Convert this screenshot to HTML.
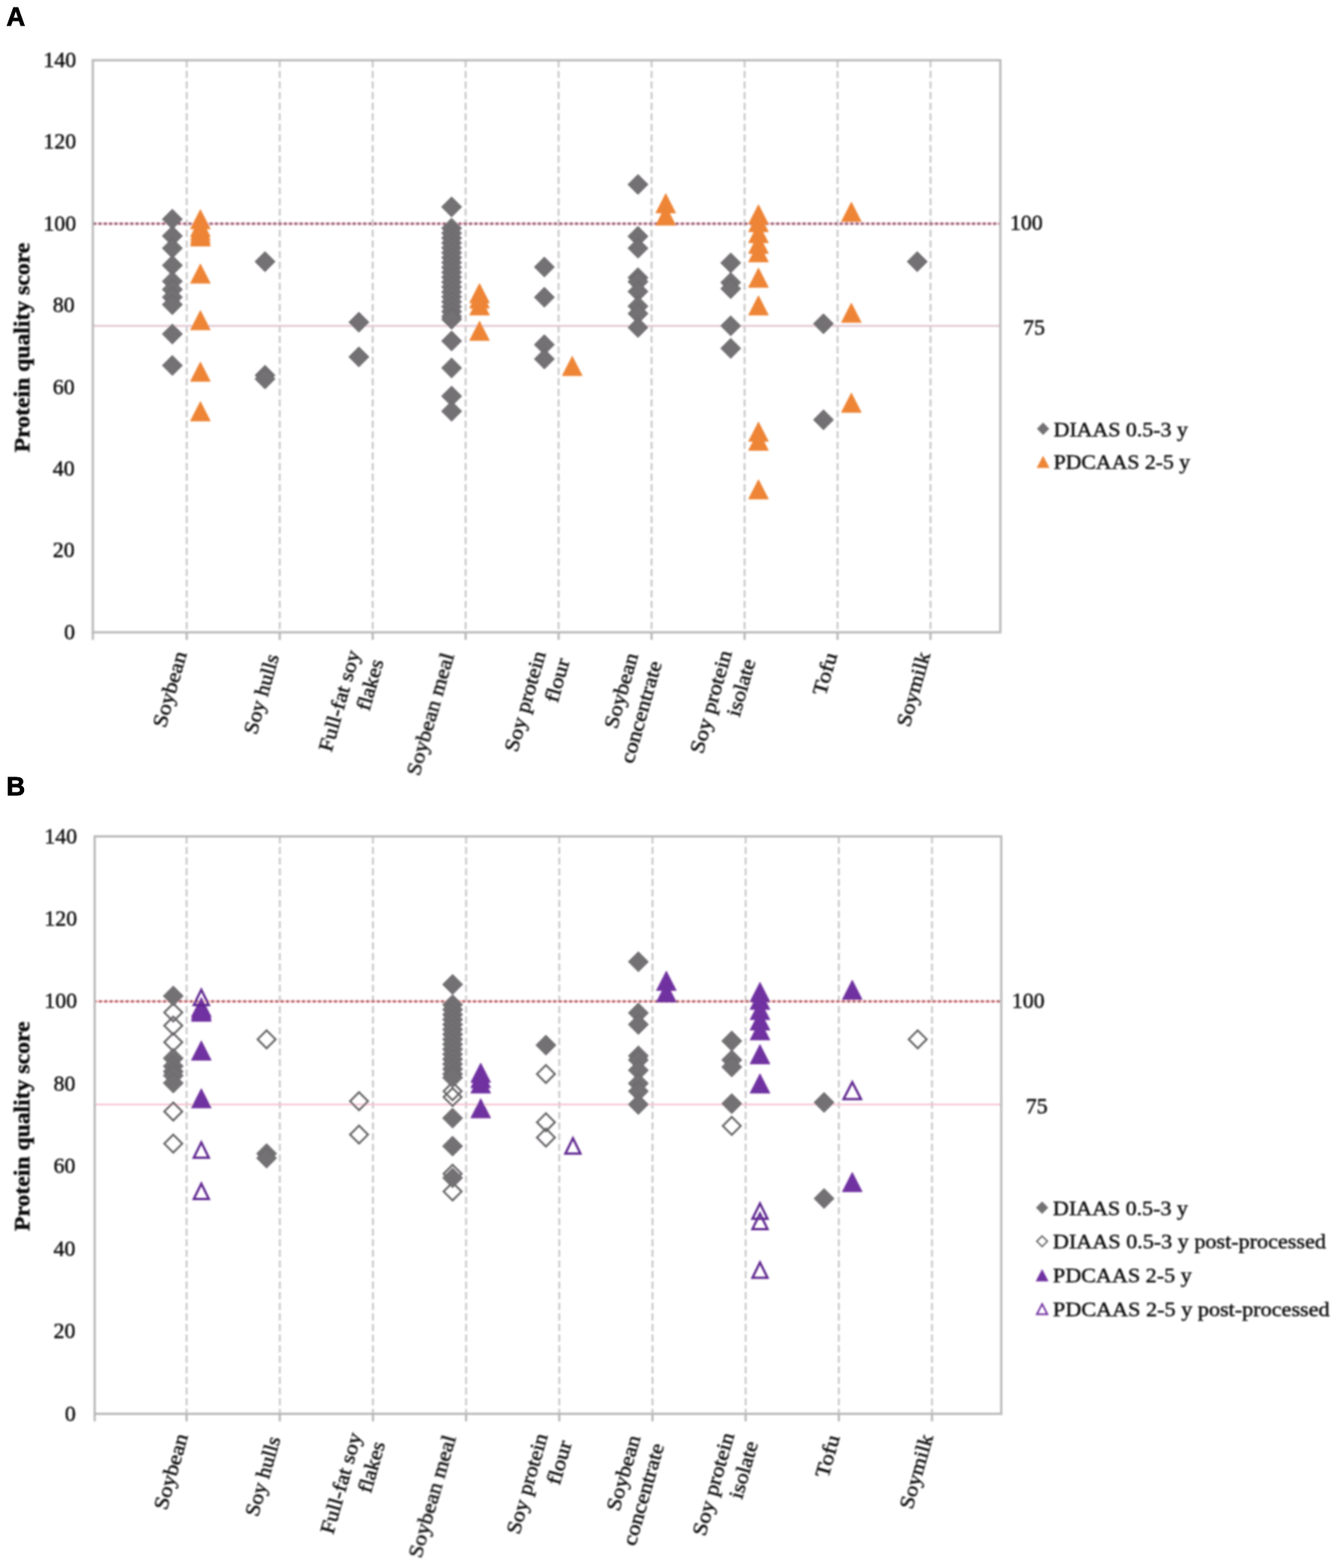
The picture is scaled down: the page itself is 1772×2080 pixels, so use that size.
<!DOCTYPE html>
<html><head><meta charset="utf-8"><title>Protein quality score</title>
<style>html,body{margin:0;padding:0;background:#fff;}svg{display:block;}g.c text{stroke:#141414;stroke-width:0.6px;}</style></head>
<body><svg width="1772" height="2080" viewBox="0 0 1772 2080">
<defs><filter id="bl" x="-2%" y="-2%" width="104%" height="104%"><feGaussianBlur stdDeviation="0.9"/></filter></defs>
<rect width="1772" height="2080" fill="#fff"/>
<g class="c" filter="url(#bl)">
<line x1="247.7" y1="79.9" x2="247.7" y2="838.8" stroke="#C9C9C9" stroke-width="2.6" stroke-dasharray="9.5 4.56"/>
<line x1="371.0" y1="79.9" x2="371.0" y2="838.8" stroke="#C9C9C9" stroke-width="2.6" stroke-dasharray="9.5 4.56"/>
<line x1="494.3" y1="79.9" x2="494.3" y2="838.8" stroke="#C9C9C9" stroke-width="2.6" stroke-dasharray="9.5 4.56"/>
<line x1="617.6" y1="79.9" x2="617.6" y2="838.8" stroke="#C9C9C9" stroke-width="2.6" stroke-dasharray="9.5 4.56"/>
<line x1="740.9" y1="79.9" x2="740.9" y2="838.8" stroke="#C9C9C9" stroke-width="2.6" stroke-dasharray="9.5 4.56"/>
<line x1="864.2" y1="79.9" x2="864.2" y2="838.8" stroke="#C9C9C9" stroke-width="2.6" stroke-dasharray="9.5 4.56"/>
<line x1="987.6" y1="79.9" x2="987.6" y2="838.8" stroke="#C9C9C9" stroke-width="2.6" stroke-dasharray="9.5 4.56"/>
<line x1="1110.9" y1="79.9" x2="1110.9" y2="838.8" stroke="#C9C9C9" stroke-width="2.6" stroke-dasharray="9.5 4.56"/>
<line x1="1234.2" y1="79.9" x2="1234.2" y2="838.8" stroke="#C9C9C9" stroke-width="2.6" stroke-dasharray="9.5 4.56"/>
<line x1="123.1" y1="432.2" x2="1326.8" y2="432.2" stroke="#E2C8D0" stroke-width="2.4"/>
<line x1="123.1" y1="296.7" x2="1326.8" y2="296.7" stroke="#F2BCCD" stroke-width="2.4"/>
<line x1="123.1" y1="296.7" x2="1325.8" y2="296.7" stroke="#8C5A6C" stroke-width="3.4" stroke-dasharray="3.5 3.522" stroke-dashoffset="-0.77"/>
<rect x="123.1" y="79.9" width="1203.7" height="758.9" fill="none" stroke="#B9B9B9" stroke-width="3"/>
<line x1="123.1" y1="838.8" x2="123.1" y2="848.8" stroke="#B9B9B9" stroke-width="3"/>
<line x1="247.7" y1="838.8" x2="247.7" y2="848.8" stroke="#B9B9B9" stroke-width="3"/>
<line x1="371.0" y1="838.8" x2="371.0" y2="848.8" stroke="#B9B9B9" stroke-width="3"/>
<line x1="494.3" y1="838.8" x2="494.3" y2="848.8" stroke="#B9B9B9" stroke-width="3"/>
<line x1="617.6" y1="838.8" x2="617.6" y2="848.8" stroke="#B9B9B9" stroke-width="3"/>
<line x1="740.9" y1="838.8" x2="740.9" y2="848.8" stroke="#B9B9B9" stroke-width="3"/>
<line x1="864.2" y1="838.8" x2="864.2" y2="848.8" stroke="#B9B9B9" stroke-width="3"/>
<line x1="987.6" y1="838.8" x2="987.6" y2="848.8" stroke="#B9B9B9" stroke-width="3"/>
<line x1="1110.9" y1="838.8" x2="1110.9" y2="848.8" stroke="#B9B9B9" stroke-width="3"/>
<line x1="1234.2" y1="838.8" x2="1234.2" y2="848.8" stroke="#B9B9B9" stroke-width="3"/>
<text x="99.5" y="847.8" font-family='"Liberation Serif", "Times New Roman", serif' font-size="29" text-anchor="end" fill="#111">0</text>
<text x="99.0" y="739.4" font-family='"Liberation Serif", "Times New Roman", serif' font-size="29" text-anchor="end" fill="#111">20</text>
<text x="99.0" y="631.0" font-family='"Liberation Serif", "Times New Roman", serif' font-size="29" text-anchor="end" fill="#111">40</text>
<text x="99.0" y="522.6" font-family='"Liberation Serif", "Times New Roman", serif' font-size="29" text-anchor="end" fill="#111">60</text>
<text x="99.0" y="414.1" font-family='"Liberation Serif", "Times New Roman", serif' font-size="29" text-anchor="end" fill="#111">80</text>
<text x="101.0" y="305.7" font-family='"Liberation Serif", "Times New Roman", serif' font-size="29" text-anchor="end" fill="#111">100</text>
<text x="101.0" y="197.3" font-family='"Liberation Serif", "Times New Roman", serif' font-size="29" text-anchor="end" fill="#111">120</text>
<text x="101.0" y="88.9" font-family='"Liberation Serif", "Times New Roman", serif' font-size="29" text-anchor="end" fill="#111">140</text>
<text x="1383.0" y="305.0" font-family='"Liberation Serif", "Times New Roman", serif' font-size="29" text-anchor="end" fill="#111">100</text>
<text x="1386.0" y="443.5" font-family='"Liberation Serif", "Times New Roman", serif' font-size="29" text-anchor="end" fill="#111">75</text>
<text transform="translate(39.0,461.0) rotate(-90)" font-family='"Liberation Serif", "Times New Roman", serif' font-size="29.5" font-weight="bold" text-anchor="middle" textLength="278" lengthAdjust="spacingAndGlyphs" fill="#111">Protein quality score</text>
<text transform="translate(247.89,867.15) rotate(-74.0)" font-family='"Liberation Serif", "Times New Roman", serif' font-size="27" text-anchor="end" textLength="103.4" lengthAdjust="spacingAndGlyphs" fill="#111">Soybean</text>
<text transform="translate(370.21,870.61) rotate(-74.0)" font-family='"Liberation Serif", "Times New Roman", serif' font-size="27" text-anchor="end" textLength="109.0" lengthAdjust="spacingAndGlyphs" fill="#111">Soy hulls</text>
<text transform="translate(477.65,865.75) rotate(-74.0)" font-family='"Liberation Serif", "Times New Roman", serif' font-size="27" text-anchor="end" textLength="138.2" lengthAdjust="spacingAndGlyphs" fill="#111">Full-fat soy</text>
<text transform="translate(508.84,877.40) rotate(-74.0)" font-family='"Liberation Serif", "Times New Roman", serif' font-size="27" text-anchor="end" textLength="69.4" lengthAdjust="spacingAndGlyphs" fill="#111">flakes</text>
<text transform="translate(602.59,869.13) rotate(-74.0)" font-family='"Liberation Serif", "Times New Roman", serif' font-size="27" text-anchor="end" textLength="167.7" lengthAdjust="spacingAndGlyphs" fill="#111">Soybean meal</text>
<text transform="translate(723.99,866.71) rotate(-74.0)" font-family='"Liberation Serif", "Times New Roman", serif' font-size="27" text-anchor="end" textLength="137.4" lengthAdjust="spacingAndGlyphs" fill="#111">Soy protein</text>
<text transform="translate(755.82,876.15) rotate(-74.0)" font-family='"Liberation Serif", "Times New Roman", serif' font-size="27" text-anchor="end" textLength="59.5" lengthAdjust="spacingAndGlyphs" fill="#111">flour</text>
<text transform="translate(846.61,869.11) rotate(-74.0)" font-family='"Liberation Serif", "Times New Roman", serif' font-size="27" text-anchor="end" textLength="102.8" lengthAdjust="spacingAndGlyphs" fill="#111">Soybean</text>
<text transform="translate(878.08,879.80) rotate(-74.0)" font-family='"Liberation Serif", "Times New Roman", serif' font-size="27" text-anchor="end" textLength="139.6" lengthAdjust="spacingAndGlyphs" fill="#111">concentrate</text>
<text transform="translate(970.91,865.65) rotate(-74.0)" font-family='"Liberation Serif", "Times New Roman", serif' font-size="27" text-anchor="end" textLength="140.9" lengthAdjust="spacingAndGlyphs" fill="#111">Soy protein</text>
<text transform="translate(1002.17,877.11) rotate(-74.0)" font-family='"Liberation Serif", "Times New Roman", serif' font-size="27" text-anchor="end" textLength="77.9" lengthAdjust="spacingAndGlyphs" fill="#111">isolate</text>
<text transform="translate(1110.62,868.69) rotate(-74.0)" font-family='"Liberation Serif", "Times New Roman", serif' font-size="27" text-anchor="end" textLength="57.6" lengthAdjust="spacingAndGlyphs" fill="#111">Tofu</text>
<text transform="translate(1234.15,867.92) rotate(-74.0)" font-family='"Liberation Serif", "Times New Roman", serif' font-size="27" text-anchor="end" textLength="101.5" lengthAdjust="spacingAndGlyphs" fill="#111">Soymilk</text>
<polygon points="228.6,277.5 241.9,290.8 228.6,304.1 215.3,290.8" fill="#737173" stroke="#666466" stroke-width="1"/>
<polygon points="228.6,299.7 241.9,313.0 228.6,326.3 215.3,313.0" fill="#737173" stroke="#666466" stroke-width="1"/>
<polygon points="228.6,316.0 241.9,329.3 228.6,342.6 215.3,329.3" fill="#737173" stroke="#666466" stroke-width="1"/>
<polygon points="228.6,338.7 241.9,352.0 228.6,365.3 215.3,352.0" fill="#737173" stroke="#666466" stroke-width="1"/>
<polygon points="228.6,359.9 241.9,373.2 228.6,386.5 215.3,373.2" fill="#737173" stroke="#666466" stroke-width="1"/>
<polygon points="228.6,370.7 241.9,384.0 228.6,397.3 215.3,384.0" fill="#737173" stroke="#666466" stroke-width="1"/>
<polygon points="228.6,381.0 241.9,394.3 228.6,407.6 215.3,394.3" fill="#737173" stroke="#666466" stroke-width="1"/>
<polygon points="228.6,390.8 241.9,404.1 228.6,417.4 215.3,404.1" fill="#737173" stroke="#666466" stroke-width="1"/>
<polygon points="228.6,429.8 241.9,443.1 228.6,456.4 215.3,443.1" fill="#737173" stroke="#666466" stroke-width="1"/>
<polygon points="228.6,471.5 241.9,484.8 228.6,498.1 215.3,484.8" fill="#737173" stroke="#666466" stroke-width="1"/>
<polygon points="351.5,333.8 364.8,347.1 351.5,360.4 338.2,347.1" fill="#737173" stroke="#666466" stroke-width="1"/>
<polygon points="351.5,484.5 364.8,497.8 351.5,511.1 338.2,497.8" fill="#737173" stroke="#666466" stroke-width="1"/>
<polygon points="351.5,489.4 364.8,502.7 351.5,516.0 338.2,502.7" fill="#737173" stroke="#666466" stroke-width="1"/>
<polygon points="476.0,414.1 489.3,427.4 476.0,440.7 462.7,427.4" fill="#737173" stroke="#666466" stroke-width="1"/>
<polygon points="476.0,460.1 489.3,473.4 476.0,486.7 462.7,473.4" fill="#737173" stroke="#666466" stroke-width="1"/>
<polygon points="599.0,261.2 612.3,274.5 599.0,287.8 585.7,274.5" fill="#737173" stroke="#666466" stroke-width="1"/>
<polygon points="599.0,289.4 612.3,302.7 599.0,316.0 585.7,302.7" fill="#737173" stroke="#666466" stroke-width="1"/>
<polygon points="599.0,295.9 612.3,309.2 599.0,322.5 585.7,309.2" fill="#737173" stroke="#666466" stroke-width="1"/>
<polygon points="599.0,302.4 612.3,315.7 599.0,329.0 585.7,315.7" fill="#737173" stroke="#666466" stroke-width="1"/>
<polygon points="599.0,308.9 612.3,322.2 599.0,335.5 585.7,322.2" fill="#737173" stroke="#666466" stroke-width="1"/>
<polygon points="599.0,315.4 612.3,328.7 599.0,342.0 585.7,328.7" fill="#737173" stroke="#666466" stroke-width="1"/>
<polygon points="599.0,321.9 612.3,335.2 599.0,348.5 585.7,335.2" fill="#737173" stroke="#666466" stroke-width="1"/>
<polygon points="599.0,328.4 612.3,341.7 599.0,355.0 585.7,341.7" fill="#737173" stroke="#666466" stroke-width="1"/>
<polygon points="599.0,334.9 612.3,348.2 599.0,361.5 585.7,348.2" fill="#737173" stroke="#666466" stroke-width="1"/>
<polygon points="599.0,341.4 612.3,354.7 599.0,368.0 585.7,354.7" fill="#737173" stroke="#666466" stroke-width="1"/>
<polygon points="599.0,347.9 612.3,361.2 599.0,374.5 585.7,361.2" fill="#737173" stroke="#666466" stroke-width="1"/>
<polygon points="599.0,354.4 612.3,367.7 599.0,381.0 585.7,367.7" fill="#737173" stroke="#666466" stroke-width="1"/>
<polygon points="599.0,360.9 612.3,374.2 599.0,387.5 585.7,374.2" fill="#737173" stroke="#666466" stroke-width="1"/>
<polygon points="599.0,367.4 612.3,380.7 599.0,394.0 585.7,380.7" fill="#737173" stroke="#666466" stroke-width="1"/>
<polygon points="599.0,374.0 612.3,387.3 599.0,400.6 585.7,387.3" fill="#737173" stroke="#666466" stroke-width="1"/>
<polygon points="599.0,380.5 612.3,393.8 599.0,407.1 585.7,393.8" fill="#737173" stroke="#666466" stroke-width="1"/>
<polygon points="599.0,387.0 612.3,400.3 599.0,413.6 585.7,400.3" fill="#737173" stroke="#666466" stroke-width="1"/>
<polygon points="599.0,393.5 612.3,406.8 599.0,420.1 585.7,406.8" fill="#737173" stroke="#666466" stroke-width="1"/>
<polygon points="599.0,400.0 612.3,413.3 599.0,426.6 585.7,413.3" fill="#737173" stroke="#666466" stroke-width="1"/>
<polygon points="599.0,406.5 612.3,419.8 599.0,433.1 585.7,419.8" fill="#737173" stroke="#666466" stroke-width="1"/>
<polygon points="599.0,410.3 612.3,423.6 599.0,436.9 585.7,423.6" fill="#737173" stroke="#666466" stroke-width="1"/>
<polygon points="599.0,439.0 612.3,452.3 599.0,465.6 585.7,452.3" fill="#737173" stroke="#666466" stroke-width="1"/>
<polygon points="599.0,474.8 612.3,488.1 599.0,501.4 585.7,488.1" fill="#737173" stroke="#666466" stroke-width="1"/>
<polygon points="599.0,512.2 612.3,525.5 599.0,538.8 585.7,525.5" fill="#737173" stroke="#666466" stroke-width="1"/>
<polygon points="599.0,532.2 612.3,545.5 599.0,558.8 585.7,545.5" fill="#737173" stroke="#666466" stroke-width="1"/>
<polygon points="722.0,340.9 735.3,354.2 722.0,367.5 708.7,354.2" fill="#737173" stroke="#666466" stroke-width="1"/>
<polygon points="722.0,381.0 735.3,394.3 722.0,407.6 708.7,394.3" fill="#737173" stroke="#666466" stroke-width="1"/>
<polygon points="722.0,443.9 735.3,457.2 722.0,470.5 708.7,457.2" fill="#737173" stroke="#666466" stroke-width="1"/>
<polygon points="722.0,462.9 735.3,476.2 722.0,489.5 708.7,476.2" fill="#737173" stroke="#666466" stroke-width="1"/>
<polygon points="846.2,231.4 859.5,244.7 846.2,258.0 832.9,244.7" fill="#737173" stroke="#666466" stroke-width="1"/>
<polygon points="846.2,300.2 859.5,313.5 846.2,326.8 832.9,313.5" fill="#737173" stroke="#666466" stroke-width="1"/>
<polygon points="846.2,316.0 859.5,329.3 846.2,342.6 832.9,329.3" fill="#737173" stroke="#666466" stroke-width="1"/>
<polygon points="846.2,355.0 859.5,368.3 846.2,381.6 832.9,368.3" fill="#737173" stroke="#666466" stroke-width="1"/>
<polygon points="846.2,360.4 859.5,373.7 846.2,387.0 832.9,373.7" fill="#737173" stroke="#666466" stroke-width="1"/>
<polygon points="846.2,373.4 859.5,386.7 846.2,400.0 832.9,386.7" fill="#737173" stroke="#666466" stroke-width="1"/>
<polygon points="846.2,392.9 859.5,406.2 846.2,419.5 832.9,406.2" fill="#737173" stroke="#666466" stroke-width="1"/>
<polygon points="846.2,402.7 859.5,416.0 846.2,429.3 832.9,416.0" fill="#737173" stroke="#666466" stroke-width="1"/>
<polygon points="846.2,421.1 859.5,434.4 846.2,447.7 832.9,434.4" fill="#737173" stroke="#666466" stroke-width="1"/>
<polygon points="969.2,335.5 982.5,348.8 969.2,362.1 955.9,348.8" fill="#737173" stroke="#666466" stroke-width="1"/>
<polygon points="969.2,361.5 982.5,374.8 969.2,388.1 955.9,374.8" fill="#737173" stroke="#666466" stroke-width="1"/>
<polygon points="969.2,369.6 982.5,382.9 969.2,396.2 955.9,382.9" fill="#737173" stroke="#666466" stroke-width="1"/>
<polygon points="969.2,418.9 982.5,432.2 969.2,445.5 955.9,432.2" fill="#737173" stroke="#666466" stroke-width="1"/>
<polygon points="969.2,448.8 982.5,462.1 969.2,475.4 955.9,462.1" fill="#737173" stroke="#666466" stroke-width="1"/>
<polygon points="1092.2,416.2 1105.5,429.5 1092.2,442.8 1078.9,429.5" fill="#737173" stroke="#666466" stroke-width="1"/>
<polygon points="1092.2,543.6 1105.5,556.9 1092.2,570.2 1078.9,556.9" fill="#737173" stroke="#666466" stroke-width="1"/>
<polygon points="1216.6,333.8 1229.9,347.1 1216.6,360.4 1203.3,347.1" fill="#737173" stroke="#666466" stroke-width="1"/>
<polygon points="265.8,277.9 279.0,303.7 252.6,303.7" fill="#EE8435" stroke="#EE8435" stroke-width="0.8" stroke-linejoin="miter"/>
<polygon points="265.8,288.2 279.0,314.0 252.6,314.0" fill="#EE8435" stroke="#EE8435" stroke-width="0.8" stroke-linejoin="miter"/>
<polygon points="265.8,293.0 279.0,318.8 252.6,318.8" fill="#EE8435" stroke="#EE8435" stroke-width="0.8" stroke-linejoin="miter"/>
<polygon points="265.8,297.4 279.0,323.2 252.6,323.2" fill="#EE8435" stroke="#EE8435" stroke-width="0.8" stroke-linejoin="miter"/>
<polygon points="265.8,300.6 279.0,326.4 252.6,326.4" fill="#EE8435" stroke="#EE8435" stroke-width="0.8" stroke-linejoin="miter"/>
<polygon points="265.8,350.0 279.0,375.8 252.6,375.8" fill="#EE8435" stroke="#EE8435" stroke-width="0.8" stroke-linejoin="miter"/>
<polygon points="265.8,411.8 279.0,437.6 252.6,437.6" fill="#EE8435" stroke="#EE8435" stroke-width="0.8" stroke-linejoin="miter"/>
<polygon points="265.8,480.1 279.0,505.9 252.6,505.9" fill="#EE8435" stroke="#EE8435" stroke-width="0.8" stroke-linejoin="miter"/>
<polygon points="265.8,532.6 279.0,558.4 252.6,558.4" fill="#EE8435" stroke="#EE8435" stroke-width="0.8" stroke-linejoin="miter"/>
<polygon points="636.0,376.0 649.2,401.8 622.8,401.8" fill="#EE8435" stroke="#EE8435" stroke-width="0.8" stroke-linejoin="miter"/>
<polygon points="636.0,383.0 649.2,408.8 622.8,408.8" fill="#EE8435" stroke="#EE8435" stroke-width="0.8" stroke-linejoin="miter"/>
<polygon points="636.0,392.2 649.2,418.0 622.8,418.0" fill="#EE8435" stroke="#EE8435" stroke-width="0.8" stroke-linejoin="miter"/>
<polygon points="636.0,425.9 649.2,451.7 622.8,451.7" fill="#EE8435" stroke="#EE8435" stroke-width="0.8" stroke-linejoin="miter"/>
<polygon points="759.0,472.5 772.2,498.3 745.8,498.3" fill="#EE8435" stroke="#EE8435" stroke-width="0.8" stroke-linejoin="miter"/>
<polygon points="883.0,256.7 896.2,282.5 869.8,282.5" fill="#EE8435" stroke="#EE8435" stroke-width="0.8" stroke-linejoin="miter"/>
<polygon points="883.0,273.0 896.2,298.8 869.8,298.8" fill="#EE8435" stroke="#EE8435" stroke-width="0.8" stroke-linejoin="miter"/>
<polygon points="1006.0,271.4 1019.2,297.2 992.8,297.2" fill="#EE8435" stroke="#EE8435" stroke-width="0.8" stroke-linejoin="miter"/>
<polygon points="1006.0,281.7 1019.2,307.5 992.8,307.5" fill="#EE8435" stroke="#EE8435" stroke-width="0.8" stroke-linejoin="miter"/>
<polygon points="1006.0,296.3 1019.2,322.1 992.8,322.1" fill="#EE8435" stroke="#EE8435" stroke-width="0.8" stroke-linejoin="miter"/>
<polygon points="1006.0,310.4 1019.2,336.2 992.8,336.2" fill="#EE8435" stroke="#EE8435" stroke-width="0.8" stroke-linejoin="miter"/>
<polygon points="1006.0,321.8 1019.2,347.6 992.8,347.6" fill="#EE8435" stroke="#EE8435" stroke-width="0.8" stroke-linejoin="miter"/>
<polygon points="1006.0,355.4 1019.2,381.2 992.8,381.2" fill="#EE8435" stroke="#EE8435" stroke-width="0.8" stroke-linejoin="miter"/>
<polygon points="1006.0,392.2 1019.2,418.0 992.8,418.0" fill="#EE8435" stroke="#EE8435" stroke-width="0.8" stroke-linejoin="miter"/>
<polygon points="1006.0,559.7 1019.2,585.5 992.8,585.5" fill="#EE8435" stroke="#EE8435" stroke-width="0.8" stroke-linejoin="miter"/>
<polygon points="1006.0,571.7 1019.2,597.5 992.8,597.5" fill="#EE8435" stroke="#EE8435" stroke-width="0.8" stroke-linejoin="miter"/>
<polygon points="1006.0,636.2 1019.2,662.0 992.8,662.0" fill="#EE8435" stroke="#EE8435" stroke-width="0.8" stroke-linejoin="miter"/>
<polygon points="1129.2,268.1 1142.4,293.9 1116.0,293.9" fill="#EE8435" stroke="#EE8435" stroke-width="0.8" stroke-linejoin="miter"/>
<polygon points="1129.2,402.0 1142.4,427.8 1116.0,427.8" fill="#EE8435" stroke="#EE8435" stroke-width="0.8" stroke-linejoin="miter"/>
<polygon points="1129.2,521.3 1142.4,547.1 1116.0,547.1" fill="#EE8435" stroke="#EE8435" stroke-width="0.8" stroke-linejoin="miter"/>
<polygon points="1383.5,560.6 1391.7,568.8000000000001 1383.5,577.0 1375.3,568.8000000000001" fill="#737173"/>
<text x="1397.5" y="578.6" font-family='"Liberation Serif", "Times New Roman", serif' font-size="27.5" textLength="178" lengthAdjust="spacingAndGlyphs" fill="#111">DIAAS 0.5-3 y</text>
<polygon points="1383.5,604.6 1392.0,620.8000000000001 1375.0,620.8000000000001" fill="#EE8435"/>
<text x="1397.5" y="622.1" font-family='"Liberation Serif", "Times New Roman", serif' font-size="27.5" textLength="181" lengthAdjust="spacingAndGlyphs" fill="#111">PDCAAS 2-5 y</text>
<line x1="247.5" y1="1109.5" x2="247.5" y2="1875.5" stroke="#C9C9C9" stroke-width="2.6" stroke-dasharray="9.5 4.56"/>
<line x1="371.1" y1="1109.5" x2="371.1" y2="1875.5" stroke="#C9C9C9" stroke-width="2.6" stroke-dasharray="9.5 4.56"/>
<line x1="494.7" y1="1109.5" x2="494.7" y2="1875.5" stroke="#C9C9C9" stroke-width="2.6" stroke-dasharray="9.5 4.56"/>
<line x1="618.2" y1="1109.5" x2="618.2" y2="1875.5" stroke="#C9C9C9" stroke-width="2.6" stroke-dasharray="9.5 4.56"/>
<line x1="741.8" y1="1109.5" x2="741.8" y2="1875.5" stroke="#C9C9C9" stroke-width="2.6" stroke-dasharray="9.5 4.56"/>
<line x1="865.4" y1="1109.5" x2="865.4" y2="1875.5" stroke="#C9C9C9" stroke-width="2.6" stroke-dasharray="9.5 4.56"/>
<line x1="989.0" y1="1109.5" x2="989.0" y2="1875.5" stroke="#C9C9C9" stroke-width="2.6" stroke-dasharray="9.5 4.56"/>
<line x1="1112.6" y1="1109.5" x2="1112.6" y2="1875.5" stroke="#C9C9C9" stroke-width="2.6" stroke-dasharray="9.5 4.56"/>
<line x1="1236.1" y1="1109.5" x2="1236.1" y2="1875.5" stroke="#C9C9C9" stroke-width="2.6" stroke-dasharray="9.5 4.56"/>
<line x1="125.6" y1="1465.1" x2="1328.0" y2="1465.1" stroke="#F4C4D0" stroke-width="2.4"/>
<line x1="125.6" y1="1328.4" x2="1328.0" y2="1328.4" stroke="#FFBABA" stroke-width="2.4"/>
<line x1="125.6" y1="1328.4" x2="1327.0" y2="1328.4" stroke="#A85A60" stroke-width="3.4" stroke-dasharray="3.5 3.589" stroke-dashoffset="1.27"/>
<rect x="125.6" y="1109.5" width="1202.4" height="766.0" fill="none" stroke="#B9B9B9" stroke-width="3"/>
<line x1="125.6" y1="1875.5" x2="125.6" y2="1885.5" stroke="#B9B9B9" stroke-width="3"/>
<line x1="247.5" y1="1875.5" x2="247.5" y2="1885.5" stroke="#B9B9B9" stroke-width="3"/>
<line x1="371.1" y1="1875.5" x2="371.1" y2="1885.5" stroke="#B9B9B9" stroke-width="3"/>
<line x1="494.7" y1="1875.5" x2="494.7" y2="1885.5" stroke="#B9B9B9" stroke-width="3"/>
<line x1="618.2" y1="1875.5" x2="618.2" y2="1885.5" stroke="#B9B9B9" stroke-width="3"/>
<line x1="741.8" y1="1875.5" x2="741.8" y2="1885.5" stroke="#B9B9B9" stroke-width="3"/>
<line x1="865.4" y1="1875.5" x2="865.4" y2="1885.5" stroke="#B9B9B9" stroke-width="3"/>
<line x1="989.0" y1="1875.5" x2="989.0" y2="1885.5" stroke="#B9B9B9" stroke-width="3"/>
<line x1="1112.6" y1="1875.5" x2="1112.6" y2="1885.5" stroke="#B9B9B9" stroke-width="3"/>
<line x1="1236.1" y1="1875.5" x2="1236.1" y2="1885.5" stroke="#B9B9B9" stroke-width="3"/>
<text x="100.5" y="1884.5" font-family='"Liberation Serif", "Times New Roman", serif' font-size="29" text-anchor="end" fill="#111">0</text>
<text x="99.9" y="1775.1" font-family='"Liberation Serif", "Times New Roman", serif' font-size="29" text-anchor="end" fill="#111">20</text>
<text x="99.9" y="1665.6" font-family='"Liberation Serif", "Times New Roman", serif' font-size="29" text-anchor="end" fill="#111">40</text>
<text x="99.9" y="1556.2" font-family='"Liberation Serif", "Times New Roman", serif' font-size="29" text-anchor="end" fill="#111">60</text>
<text x="99.9" y="1446.8" font-family='"Liberation Serif", "Times New Roman", serif' font-size="29" text-anchor="end" fill="#111">80</text>
<text x="102.2" y="1337.4" font-family='"Liberation Serif", "Times New Roman", serif' font-size="29" text-anchor="end" fill="#111">100</text>
<text x="102.2" y="1227.9" font-family='"Liberation Serif", "Times New Roman", serif' font-size="29" text-anchor="end" fill="#111">120</text>
<text x="102.2" y="1118.5" font-family='"Liberation Serif", "Times New Roman", serif' font-size="29" text-anchor="end" fill="#111">140</text>
<text x="1385.6" y="1337.0" font-family='"Liberation Serif", "Times New Roman", serif' font-size="29" text-anchor="end" fill="#111">100</text>
<text x="1389.4" y="1477.0" font-family='"Liberation Serif", "Times New Roman", serif' font-size="29" text-anchor="end" fill="#111">75</text>
<text transform="translate(39.0,1494.0) rotate(-90)" font-family='"Liberation Serif", "Times New Roman", serif' font-size="29.5" font-weight="bold" text-anchor="middle" textLength="278" lengthAdjust="spacingAndGlyphs" fill="#111">Protein quality score</text>
<text transform="translate(249.48,1904.88) rotate(-74.0)" font-family='"Liberation Serif", "Times New Roman", serif' font-size="27" text-anchor="end" textLength="103.4" lengthAdjust="spacingAndGlyphs" fill="#111">Soybean</text>
<text transform="translate(372.07,1908.34) rotate(-74.0)" font-family='"Liberation Serif", "Times New Roman", serif' font-size="27" text-anchor="end" textLength="109.0" lengthAdjust="spacingAndGlyphs" fill="#111">Soy hulls</text>
<text transform="translate(479.77,1903.48) rotate(-74.0)" font-family='"Liberation Serif", "Times New Roman", serif' font-size="27" text-anchor="end" textLength="138.2" lengthAdjust="spacingAndGlyphs" fill="#111">Full-fat soy</text>
<text transform="translate(510.97,1915.13) rotate(-74.0)" font-family='"Liberation Serif", "Times New Roman", serif' font-size="27" text-anchor="end" textLength="69.4" lengthAdjust="spacingAndGlyphs" fill="#111">flakes</text>
<text transform="translate(604.98,1906.86) rotate(-74.0)" font-family='"Liberation Serif", "Times New Roman", serif' font-size="27" text-anchor="end" textLength="167.7" lengthAdjust="spacingAndGlyphs" fill="#111">Soybean meal</text>
<text transform="translate(726.66,1904.44) rotate(-74.0)" font-family='"Liberation Serif", "Times New Roman", serif' font-size="27" text-anchor="end" textLength="137.4" lengthAdjust="spacingAndGlyphs" fill="#111">Soy protein</text>
<text transform="translate(758.49,1913.88) rotate(-74.0)" font-family='"Liberation Serif", "Times New Roman", serif' font-size="27" text-anchor="end" textLength="59.5" lengthAdjust="spacingAndGlyphs" fill="#111">flour</text>
<text transform="translate(849.55,1906.84) rotate(-74.0)" font-family='"Liberation Serif", "Times New Roman", serif' font-size="27" text-anchor="end" textLength="102.8" lengthAdjust="spacingAndGlyphs" fill="#111">Soybean</text>
<text transform="translate(881.02,1917.53) rotate(-74.0)" font-family='"Liberation Serif", "Times New Roman", serif' font-size="27" text-anchor="end" textLength="139.6" lengthAdjust="spacingAndGlyphs" fill="#111">concentrate</text>
<text transform="translate(974.12,1903.38) rotate(-74.0)" font-family='"Liberation Serif", "Times New Roman", serif' font-size="27" text-anchor="end" textLength="140.9" lengthAdjust="spacingAndGlyphs" fill="#111">Soy protein</text>
<text transform="translate(1005.37,1914.84) rotate(-74.0)" font-family='"Liberation Serif", "Times New Roman", serif' font-size="27" text-anchor="end" textLength="77.9" lengthAdjust="spacingAndGlyphs" fill="#111">isolate</text>
<text transform="translate(1114.10,1906.42) rotate(-74.0)" font-family='"Liberation Serif", "Times New Roman", serif' font-size="27" text-anchor="end" textLength="57.6" lengthAdjust="spacingAndGlyphs" fill="#111">Tofu</text>
<text transform="translate(1237.90,1905.65) rotate(-74.0)" font-family='"Liberation Serif", "Times New Roman", serif' font-size="27" text-anchor="end" textLength="101.5" lengthAdjust="spacingAndGlyphs" fill="#111">Soymilk</text>
<polygon points="229.8,1331.2 241.7,1343.1 229.8,1355.0 217.9,1343.1" fill="none" stroke="#666466" stroke-width="2.6"/>
<polygon points="229.8,1348.7 241.7,1360.6 229.8,1372.5 217.9,1360.6" fill="none" stroke="#666466" stroke-width="2.6"/>
<polygon points="229.8,1370.6 241.7,1382.5 229.8,1394.4 217.9,1382.5" fill="none" stroke="#666466" stroke-width="2.6"/>
<polygon points="229.8,1462.5 241.7,1474.4 229.8,1486.3 217.9,1474.4" fill="none" stroke="#666466" stroke-width="2.6"/>
<polygon points="229.8,1505.2 241.7,1517.1 229.8,1529.0 217.9,1517.1" fill="none" stroke="#666466" stroke-width="2.6"/>
<polygon points="229.8,1307.9 243.1,1321.2 229.8,1334.5 216.5,1321.2" fill="#737173" stroke="#666466" stroke-width="1"/>
<polygon points="229.8,1390.6 243.1,1403.9 229.8,1417.2 216.5,1403.9" fill="#737173" stroke="#666466" stroke-width="1"/>
<polygon points="229.8,1401.0 243.1,1414.3 229.8,1427.6 216.5,1414.3" fill="#737173" stroke="#666466" stroke-width="1"/>
<polygon points="229.8,1408.1 243.1,1421.4 229.8,1434.7 216.5,1421.4" fill="#737173" stroke="#666466" stroke-width="1"/>
<polygon points="229.8,1413.5 243.1,1426.8 229.8,1440.1 216.5,1426.8" fill="#737173" stroke="#666466" stroke-width="1"/>
<polygon points="229.8,1423.4 243.1,1436.7 229.8,1450.0 216.5,1436.7" fill="#737173" stroke="#666466" stroke-width="1"/>
<polygon points="353.6,1366.8 365.5,1378.7 353.6,1390.6 341.7,1378.7" fill="none" stroke="#666466" stroke-width="2.6"/>
<polygon points="353.6,1517.0 366.9,1530.3 353.6,1543.6 340.3,1530.3" fill="#737173" stroke="#666466" stroke-width="1"/>
<polygon points="353.6,1523.0 366.9,1536.3 353.6,1549.6 340.3,1536.3" fill="#737173" stroke="#666466" stroke-width="1"/>
<polygon points="476.2,1448.9 488.1,1460.8 476.2,1472.7 464.3,1460.8" fill="none" stroke="#666466" stroke-width="2.6"/>
<polygon points="476.2,1493.2 488.1,1505.1 476.2,1517.0 464.3,1505.1" fill="none" stroke="#666466" stroke-width="2.6"/>
<polygon points="600.3,1435.7 612.2,1447.6 600.3,1459.5 588.4,1447.6" fill="none" stroke="#666466" stroke-width="2.6"/>
<polygon points="600.3,1443.4 612.2,1455.3 600.3,1467.2 588.4,1455.3" fill="none" stroke="#666466" stroke-width="2.6"/>
<polygon points="600.3,1545.2 612.2,1557.1 600.3,1569.0 588.4,1557.1" fill="none" stroke="#666466" stroke-width="2.6"/>
<polygon points="600.3,1568.7 612.2,1580.6 600.3,1592.5 588.4,1580.6" fill="none" stroke="#666466" stroke-width="2.6"/>
<polygon points="600.3,1292.6 613.6,1305.9 600.3,1319.2 587.0,1305.9" fill="#737173" stroke="#666466" stroke-width="1"/>
<polygon points="600.3,1319.4 613.6,1332.7 600.3,1346.0 587.0,1332.7" fill="#737173" stroke="#666466" stroke-width="1"/>
<polygon points="600.3,1326.0 613.6,1339.3 600.3,1352.6 587.0,1339.3" fill="#737173" stroke="#666466" stroke-width="1"/>
<polygon points="600.3,1332.6 613.6,1345.9 600.3,1359.2 587.0,1345.9" fill="#737173" stroke="#666466" stroke-width="1"/>
<polygon points="600.3,1339.1 613.6,1352.4 600.3,1365.7 587.0,1352.4" fill="#737173" stroke="#666466" stroke-width="1"/>
<polygon points="600.3,1345.7 613.6,1359.0 600.3,1372.3 587.0,1359.0" fill="#737173" stroke="#666466" stroke-width="1"/>
<polygon points="600.3,1352.3 613.6,1365.6 600.3,1378.9 587.0,1365.6" fill="#737173" stroke="#666466" stroke-width="1"/>
<polygon points="600.3,1358.8 613.6,1372.1 600.3,1385.4 587.0,1372.1" fill="#737173" stroke="#666466" stroke-width="1"/>
<polygon points="600.3,1365.4 613.6,1378.7 600.3,1392.0 587.0,1378.7" fill="#737173" stroke="#666466" stroke-width="1"/>
<polygon points="600.3,1372.0 613.6,1385.3 600.3,1398.6 587.0,1385.3" fill="#737173" stroke="#666466" stroke-width="1"/>
<polygon points="600.3,1378.5 613.6,1391.8 600.3,1405.1 587.0,1391.8" fill="#737173" stroke="#666466" stroke-width="1"/>
<polygon points="600.3,1385.1 613.6,1398.4 600.3,1411.7 587.0,1398.4" fill="#737173" stroke="#666466" stroke-width="1"/>
<polygon points="600.3,1391.7 613.6,1405.0 600.3,1418.3 587.0,1405.0" fill="#737173" stroke="#666466" stroke-width="1"/>
<polygon points="600.3,1398.2 613.6,1411.5 600.3,1424.8 587.0,1411.5" fill="#737173" stroke="#666466" stroke-width="1"/>
<polygon points="600.3,1404.8 613.6,1418.1 600.3,1431.4 587.0,1418.1" fill="#737173" stroke="#666466" stroke-width="1"/>
<polygon points="600.3,1411.4 613.6,1424.7 600.3,1438.0 587.0,1424.7" fill="#737173" stroke="#666466" stroke-width="1"/>
<polygon points="600.3,1416.3 613.6,1429.6 600.3,1442.9 587.0,1429.6" fill="#737173" stroke="#666466" stroke-width="1"/>
<polygon points="600.3,1469.9 613.6,1483.2 600.3,1496.5 587.0,1483.2" fill="#737173" stroke="#666466" stroke-width="1"/>
<polygon points="600.3,1507.1 613.6,1520.4 600.3,1533.7 587.0,1520.4" fill="#737173" stroke="#666466" stroke-width="1"/>
<polygon points="600.3,1549.2 613.6,1562.5 600.3,1575.8 587.0,1562.5" fill="#737173" stroke="#666466" stroke-width="1"/>
<polygon points="724.1,1412.8 736.0,1424.7 724.1,1436.6 712.2,1424.7" fill="none" stroke="#666466" stroke-width="2.6"/>
<polygon points="724.1,1476.8 736.0,1488.7 724.1,1500.6 712.2,1488.7" fill="none" stroke="#666466" stroke-width="2.6"/>
<polygon points="724.1,1497.0 736.0,1508.9 724.1,1520.8 712.2,1508.9" fill="none" stroke="#666466" stroke-width="2.6"/>
<polygon points="724.1,1373.1 737.4,1386.4 724.1,1399.7 710.8,1386.4" fill="#737173" stroke="#666466" stroke-width="1"/>
<polygon points="846.7,1262.5 860.0,1275.8 846.7,1289.1 833.4,1275.8" fill="#737173" stroke="#666466" stroke-width="1"/>
<polygon points="846.7,1330.4 860.0,1343.7 846.7,1357.0 833.4,1343.7" fill="#737173" stroke="#666466" stroke-width="1"/>
<polygon points="846.7,1345.7 860.0,1359.0 846.7,1372.3 833.4,1359.0" fill="#737173" stroke="#666466" stroke-width="1"/>
<polygon points="846.7,1387.3 860.0,1400.6 846.7,1413.9 833.4,1400.6" fill="#737173" stroke="#666466" stroke-width="1"/>
<polygon points="846.7,1392.8 860.0,1406.1 846.7,1419.4 833.4,1406.1" fill="#737173" stroke="#666466" stroke-width="1"/>
<polygon points="846.7,1406.4 860.0,1419.7 846.7,1433.0 833.4,1419.7" fill="#737173" stroke="#666466" stroke-width="1"/>
<polygon points="846.7,1423.9 860.0,1437.2 846.7,1450.5 833.4,1437.2" fill="#737173" stroke="#666466" stroke-width="1"/>
<polygon points="846.7,1434.3 860.0,1447.6 846.7,1460.9 833.4,1447.6" fill="#737173" stroke="#666466" stroke-width="1"/>
<polygon points="846.7,1451.8 860.0,1465.1 846.7,1478.4 833.4,1465.1" fill="#737173" stroke="#666466" stroke-width="1"/>
<polygon points="970.6,1481.7 982.5,1493.6 970.6,1505.5 958.7,1493.6" fill="none" stroke="#666466" stroke-width="2.6"/>
<polygon points="970.6,1367.6 983.9,1380.9 970.6,1394.2 957.3,1380.9" fill="#737173" stroke="#666466" stroke-width="1"/>
<polygon points="970.6,1392.8 983.9,1406.1 970.6,1419.4 957.3,1406.1" fill="#737173" stroke="#666466" stroke-width="1"/>
<polygon points="970.6,1402.1 983.9,1415.4 970.6,1428.7 957.3,1415.4" fill="#737173" stroke="#666466" stroke-width="1"/>
<polygon points="970.6,1450.7 983.9,1464.0 970.6,1477.3 957.3,1464.0" fill="#737173" stroke="#666466" stroke-width="1"/>
<polygon points="1093.0,1449.1 1106.3,1462.4 1093.0,1475.7 1079.7,1462.4" fill="#737173" stroke="#666466" stroke-width="1"/>
<polygon points="1093.0,1576.6 1106.3,1589.9 1093.0,1603.2 1079.7,1589.9" fill="#737173" stroke="#666466" stroke-width="1"/>
<polygon points="1217.2,1366.8 1229.1,1378.7 1217.2,1390.6 1205.3,1378.7" fill="none" stroke="#666466" stroke-width="2.6"/>
<polygon points="267.0,1323.1 280.2,1348.9 253.8,1348.9" fill="#7030A0" stroke="#7030A0" stroke-width="0.8" stroke-linejoin="miter"/>
<polygon points="267.0,1326.4 280.2,1352.2 253.8,1352.2" fill="#7030A0" stroke="#7030A0" stroke-width="0.8" stroke-linejoin="miter"/>
<polygon points="267.0,1329.1 280.2,1354.9 253.8,1354.9" fill="#7030A0" stroke="#7030A0" stroke-width="0.8" stroke-linejoin="miter"/>
<polygon points="267.0,1380.6 280.2,1406.4 253.8,1406.4" fill="#7030A0" stroke="#7030A0" stroke-width="0.8" stroke-linejoin="miter"/>
<polygon points="267.0,1444.0 280.2,1469.8 253.8,1469.8" fill="#7030A0" stroke="#7030A0" stroke-width="0.8" stroke-linejoin="miter"/>
<polygon points="267.0,1312.9 277.0,1333.3 257.0,1333.3" fill="none" stroke="#5E2790" stroke-width="3.0" stroke-linejoin="miter"/>
<polygon points="267.0,1515.4 277.0,1535.8 257.0,1535.8" fill="none" stroke="#5E2790" stroke-width="3.0" stroke-linejoin="miter"/>
<polygon points="267.0,1570.1 277.0,1590.5 257.0,1590.5" fill="none" stroke="#5E2790" stroke-width="3.0" stroke-linejoin="miter"/>
<polygon points="637.6,1410.1 650.8,1435.9 624.4,1435.9" fill="#7030A0" stroke="#7030A0" stroke-width="0.8" stroke-linejoin="miter"/>
<polygon points="637.6,1417.2 650.8,1443.0 624.4,1443.0" fill="#7030A0" stroke="#7030A0" stroke-width="0.8" stroke-linejoin="miter"/>
<polygon points="637.6,1424.3 650.8,1450.1 624.4,1450.1" fill="#7030A0" stroke="#7030A0" stroke-width="0.8" stroke-linejoin="miter"/>
<polygon points="637.6,1457.2 650.8,1483.0 624.4,1483.0" fill="#7030A0" stroke="#7030A0" stroke-width="0.8" stroke-linejoin="miter"/>
<polygon points="759.9,1509.9 769.9,1530.3 749.9,1530.3" fill="none" stroke="#5E2790" stroke-width="3.0" stroke-linejoin="miter"/>
<polygon points="883.8,1288.1 897.0,1313.9 870.6,1313.9" fill="#7030A0" stroke="#7030A0" stroke-width="0.8" stroke-linejoin="miter"/>
<polygon points="883.8,1303.4 897.0,1329.2 870.6,1329.2" fill="#7030A0" stroke="#7030A0" stroke-width="0.8" stroke-linejoin="miter"/>
<polygon points="1008.0,1302.9 1021.2,1328.7 994.8,1328.7" fill="#7030A0" stroke="#7030A0" stroke-width="0.8" stroke-linejoin="miter"/>
<polygon points="1008.0,1313.3 1021.2,1339.1 994.8,1339.1" fill="#7030A0" stroke="#7030A0" stroke-width="0.8" stroke-linejoin="miter"/>
<polygon points="1008.0,1326.9 1021.2,1352.7 994.8,1352.7" fill="#7030A0" stroke="#7030A0" stroke-width="0.8" stroke-linejoin="miter"/>
<polygon points="1008.0,1340.6 1021.2,1366.4 994.8,1366.4" fill="#7030A0" stroke="#7030A0" stroke-width="0.8" stroke-linejoin="miter"/>
<polygon points="1008.0,1353.8 1021.2,1379.6 994.8,1379.6" fill="#7030A0" stroke="#7030A0" stroke-width="0.8" stroke-linejoin="miter"/>
<polygon points="1008.0,1385.5 1021.2,1411.3 994.8,1411.3" fill="#7030A0" stroke="#7030A0" stroke-width="0.8" stroke-linejoin="miter"/>
<polygon points="1008.0,1424.3 1021.2,1450.1 994.8,1450.1" fill="#7030A0" stroke="#7030A0" stroke-width="0.8" stroke-linejoin="miter"/>
<polygon points="1008.0,1596.4 1018.0,1616.8 998.0,1616.8" fill="none" stroke="#5E2790" stroke-width="3.0" stroke-linejoin="miter"/>
<polygon points="1008.0,1610.0 1018.0,1630.4 998.0,1630.4" fill="none" stroke="#5E2790" stroke-width="3.0" stroke-linejoin="miter"/>
<polygon points="1008.0,1674.6 1018.0,1695.0 998.0,1695.0" fill="none" stroke="#5E2790" stroke-width="3.0" stroke-linejoin="miter"/>
<polygon points="1130.4,1300.1 1143.6,1325.9 1117.2,1325.9" fill="#7030A0" stroke="#7030A0" stroke-width="0.8" stroke-linejoin="miter"/>
<polygon points="1130.4,1555.1 1143.6,1580.9 1117.2,1580.9" fill="#7030A0" stroke="#7030A0" stroke-width="0.8" stroke-linejoin="miter"/>
<polygon points="1130.4,1435.5 1142.0,1458.1 1118.8,1458.1" fill="none" stroke="#5E2790" stroke-width="3.0" stroke-linejoin="miter"/>
<polygon points="1382.2,1593.8 1390.4,1602.0 1382.2,1610.2 1374.0,1602.0" fill="#737173"/>
<text x="1396.6" y="1611.8" font-family='"Liberation Serif", "Times New Roman", serif' font-size="27.5" textLength="179" lengthAdjust="spacingAndGlyphs" fill="#111">DIAAS 0.5-3 y</text>
<polygon points="1382.2,1639.6 1389.2,1646.6 1382.2,1653.6 1375.2,1646.6" fill="none" stroke="#666466" stroke-width="2"/>
<text x="1396.6" y="1656.4" font-family='"Liberation Serif", "Times New Roman", serif' font-size="27.5" textLength="362" lengthAdjust="spacingAndGlyphs" fill="#111">DIAAS 0.5-3 y post-processed</text>
<polygon points="1382.2,1683.5 1390.7,1699.7 1373.7,1699.7" fill="#7030A0"/>
<text x="1396.6" y="1701.0" font-family='"Liberation Serif", "Times New Roman", serif' font-size="27.5" textLength="184" lengthAdjust="spacingAndGlyphs" fill="#111">PDCAAS 2-5 y</text>
<polygon points="1382.2,1729.8 1389.2,1743.3999999999999 1375.2,1743.3999999999999" fill="none" stroke="#7030A0" stroke-width="2.2"/>
<text x="1396.6" y="1745.6" font-family='"Liberation Serif", "Times New Roman", serif' font-size="27.5" textLength="367" lengthAdjust="spacingAndGlyphs" fill="#111">PDCAAS 2-5 y post-processed</text>
</g>
<text x="8.6" y="34.0" font-family='"Liberation Sans", Arial, sans-serif' font-size="34.5" font-weight="bold" fill="#000" stroke="#000" stroke-width="0.9">A</text>
<text x="8.4" y="1055.0" font-family='"Liberation Sans", Arial, sans-serif' font-size="34.5" font-weight="bold" fill="#000" stroke="#000" stroke-width="0.9">B</text>
</svg></body></html>
